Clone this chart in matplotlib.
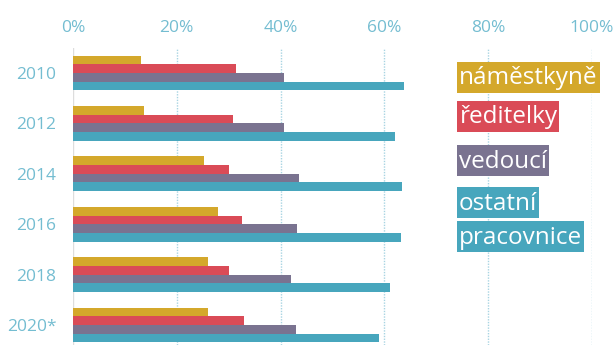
import matplotlib.pyplot as plt
from matplotlib.patches import Rectangle
import numpy as np

roky = ['2010', '2012', '2014', '2016', '2018', '2020*']
namestkyne = [13.1, 13.7, 25.3, 28.0, 26.0, 26.0]
reditelky = [31.4, 30.9, 30.1, 32.5, 30.1, 33.0]
vedouci = [40.7, 40.7, 43.5, 43.2, 42.1, 43.0]
ostatni = [63.8, 62.1, 63.3, 63.2, 61.0, 59.0]

serie = [namestkyne, reditelky, vedouci, ostatni]
barvy = ['#d4a82b', '#da4b57', '#7a7390', '#47a6bd']
modra = '#74bdd1'

plt.rcParams['font.family'] = ['Open Sans', 'DejaVu Sans']

W, H = 616, 345
fig = plt.figure(figsize=(W / 100, H / 100), dpi=100)
ax = fig.add_axes([73 / W, 0, 519 / W, 297 / H])

y = np.arange(len(roky))
h = 0.172
for k, (vals, c) in enumerate(zip(serie, barvy)):
    ax.barh(y + (k - 1.5) * h, vals, height=h, color=c, zorder=3)

ax.set_xlim(0, 100)
ax.set_ylim(5.397, -0.496)

# mřížka
for x in [20, 40, 60, 80, 100]:
    ax.axvline(x, color='#a8d4e2', lw=1, ls=(0, (1, 1)), zorder=1)
ax.axvline(0, color='#dddddd', lw=1, zorder=1)

ax.xaxis.tick_top()
ax.set_xticks([0, 20, 40, 60, 80, 100])
ax.set_xticklabels(['%d%%' % v for v in [0, 20, 40, 60, 80, 100]])
ax.tick_params(axis='x', length=0, pad=9, labelsize=12.5, labelcolor=modra)
ax.set_yticks(y)
ax.set_yticklabels(roky)
ax.tick_params(axis='y', length=0, pad=12, labelsize=12.5, labelcolor=modra)
for s in ax.spines.values():
    s.set_visible(False)

# legenda jako barevné štítky (horní hrana, výška v pixelech)
texty = ['náměstkyně', 'ředitelky', 'vedoucí', 'ostatní', 'pracovnice']
lb = [barvy[0], barvy[1], barvy[2], barvy[3], barvy[3]]
top = [62, 101, 145, 187, 221]
vyska = 31
x0 = 457
r = fig.canvas.get_renderer()
for t, c, yt in zip(texty, lb, top):
    txt = fig.text((x0 + 2) / W, 1 - (yt + vyska / 2 + 1) / H, t, color='white',
                   fontsize=17.5, va='center', ha='left', zorder=5)
    sirka = txt.get_window_extent(r).width + 4
    fig.patches.append(Rectangle((x0 / W, 1 - (yt + vyska) / H), sirka / W,
                                 vyska / H, transform=fig.transFigure,
                                 fc=c, ec='none', zorder=4))

fig.savefig('out.png', dpi=100)
